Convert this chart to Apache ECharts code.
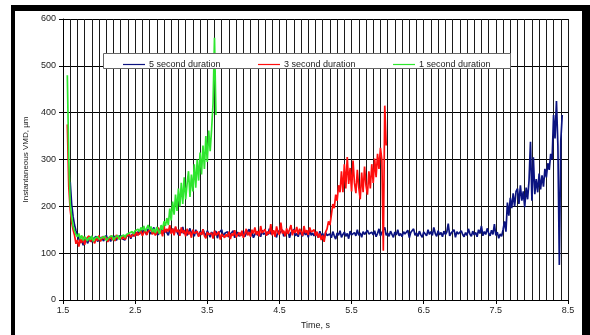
<!DOCTYPE html>
<html>
<head>
<meta charset="utf-8">
<script src="https://cdn.jsdelivr.net/npm/echarts@6/dist/echarts.min.js"></script>
<style>
  html, body { margin: 0; padding: 0; background: #fff; }
  #chart { width: 590px; height: 335px; }
</style>
</head>
<body>
<div id="chart"></div>
<script>
// sampling of the recorded traces (seconds)
const step = 0.02
const blueStart = 1.60
const redStart = 1.56
const greenStart = 1.56

const seriesNames = ["5 second duration", "3 second duration", "1 second duration"]

// 5 second duration, 1.60 .. 8.42 s
const blueVmd = [
  252, 205, 178, 160, 148, 138, 131, 122, 128, 117,
  126, 132, 121, 129, 135, 124, 131, 127, 136, 125,
  130, 127, 134, 126, 131, 138, 128, 133, 125, 132,
  129, 136, 127, 134, 130, 138, 131, 135, 128, 137,
  133, 139, 131, 141, 136, 144, 138, 146, 140, 149,
  143, 150, 145, 139, 152, 146, 141, 149, 155, 144,
  148, 139, 152, 145, 157, 142, 150, 146, 138, 151,
  144, 152, 140, 155, 146, 139, 150, 143, 156, 141,
  148, 138, 145, 153, 140, 147, 136, 150, 142, 137,
  146, 139, 151, 143, 136, 148, 141, 134, 145, 140,
  137, 147, 132, 143, 139, 150, 135, 142, 138, 146,
  134, 141, 137, 148, 133, 140, 145, 136, 143, 138,
  147, 135, 142, 139, 151, 137, 144, 133, 140, 146,
  138, 143, 135, 149, 140, 136, 145, 139, 152, 141,
  137, 146, 140, 134, 148, 142, 138, 150, 136, 143,
  139, 147, 133, 144, 140, 151, 137, 142, 135, 146,
  141, 136, 148, 139, 144, 134, 150, 138, 143, 137,
  145, 139, 133, 147, 136, 142, 131, 144, 138, 135,
  141, 133, 146, 137, 130, 143, 138, 148, 134, 140,
  145, 136, 142, 131, 147, 139, 135, 144, 137, 150,
  138, 143, 134, 146, 140, 136, 149, 141, 137, 145,
  139, 148, 135, 142, 152, 137, 144, 140, 155, 138,
  143, 136, 147, 140, 134, 145, 139, 150, 137, 142,
  135, 146, 141, 137, 149, 133, 144, 140, 152, 138,
  143, 136, 147, 139, 134, 145, 141, 137, 150, 140,
  146, 138, 155, 142, 136, 148, 139, 144, 135, 147,
  140, 145, 163, 137, 143, 139, 150, 134, 146, 141,
  137, 148, 140, 135, 144, 138, 152, 141, 136, 147,
  139, 144, 135, 150, 142, 158, 137, 146, 140, 153,
  143, 137, 149, 140, 162, 138, 145, 132, 141, 136,
  150, 168, 146, 208, 180, 218, 196, 228, 200, 232,
  238, 205, 245, 212, 232, 198, 240, 215, 255, 338,
  212, 305, 226, 258, 230, 270, 236, 266, 242, 280,
  262, 292, 278, 312, 300, 395, 345, 425, 330, 75,
  340, 395
]

// 3 second duration, 1.56 .. 5.98 s
const redVmd = [
  375, 242, 192, 166, 150, 138, 120, 128, 114, 131,
  122, 135, 118, 130, 126, 137, 124, 132, 128, 121,
  133, 127, 138, 125, 131, 136, 129, 134, 124, 130,
  137, 128, 133, 126, 139, 131, 127, 135, 130, 138,
  129, 136, 132, 140, 134, 131, 142, 136, 145, 138,
  141, 148, 137, 144, 150, 139, 146, 142, 152, 140,
  147, 138, 143, 155, 141, 149, 136, 158, 144, 152,
  146, 160, 141, 153, 138, 157, 145, 150, 137, 155,
  143, 149, 136, 152, 140, 146, 133, 150, 142, 138,
  147, 135, 144, 139, 151, 137, 132, 145, 140, 136,
  143, 131, 148, 138, 134, 146, 129, 141, 137, 133,
  140, 135, 146, 130, 142, 137, 149, 134, 139, 144,
  136, 148, 133, 141, 152, 138, 145, 135, 150, 142,
  155, 139, 147, 136, 158, 143, 140, 151, 137, 146,
  141, 162, 138, 149, 135, 157, 144, 139, 165, 142,
  148, 136, 153, 141, 145, 160, 138, 150, 143, 156,
  140, 152, 146, 137, 158, 143, 149, 139, 155, 145,
  141, 150, 137, 146, 133, 142, 128, 138, 124, 145,
  152, 168, 160, 182, 205, 196, 225, 212, 245, 230,
  275, 230, 290, 238, 305, 248, 282, 232, 298, 250,
  228, 278, 240, 215, 272, 230, 285, 244, 225, 275,
  238, 290, 250, 302, 262, 312, 280, 325, 300, 105,
  415, 330
]

// 1 second duration, 1.56 .. 3.62 s
const greenVmd = [
  480, 300, 205, 178, 158, 148, 140, 135, 142, 130,
  138, 127, 135, 131, 126, 134, 129, 137, 125, 132,
  128, 135, 130, 126, 133, 129, 136, 127, 131, 134,
  130, 137, 128, 133, 131, 138, 129, 135, 132, 139,
  134, 140, 137, 143, 139, 146, 141, 148, 144, 151,
  146, 155, 149, 158, 147, 153, 160, 150, 157, 145,
  152, 143, 156, 148, 141, 160, 150, 168, 158, 175,
  160, 195, 170, 210, 182, 225, 190, 238, 200, 250,
  205, 262, 215, 248, 275, 220, 268, 232, 290, 240,
  300, 255, 315, 268, 330, 280, 350, 295, 362, 318,
  365, 420, 560, 395
]

const xMin = 1.5
const xMax = 8.5
const yTicks = [0, 100, 200, 300, 400, 500, 600]

const toPoints = (start, vals) => vals.map((v, i) => [+(start + i * step).toFixed(2), v])

const font = "Liberation Sans, Arial, sans-serif"
const textCol = "#222"

const chart = echarts.init(document.getElementById("chart"), null, { renderer: "canvas" })

const lineSeries = (name, color, start, vals) => ({
  name: name,
  type: "line",
  xAxisIndex: 0,
  data: toPoints(start, vals),
  showSymbol: false,
  symbol: "none",
  lineStyle: { color: color, width: 1.7 },
  itemStyle: { color: color },
  animation: false,
})

const legendAt = (name, left) => ({
  data: [name],
  left: left,
  top: 55,
  z: 12,
  icon: "rect",
  itemWidth: 22,
  itemHeight: 1.2,
  itemGap: 0,
  textStyle: { fontFamily: font, fontSize: 9, color: textCol, padding: [0, 0, 0, -1] },
  selectedMode: false,
})

chart.setOption({
  backgroundColor: "#fff",
  animation: false,
  grid: { left: 63, right: 22, top: 19, bottom: 31 },
  legend: [
    legendAt(seriesNames[0], 118),
    legendAt(seriesNames[1], 253),
    legendAt(seriesNames[2], 388),
  ],
  xAxis: [
    {
      // data axis with the 0.1 s grid
      type: "value",
      min: xMin,
      max: xMax,
      interval: 0.1,
      axisLine: { show: true, lineStyle: { color: "#000", width: 1 } },
      axisTick: { show: false },
      axisLabel: { show: false },
      splitLine: { show: true, lineStyle: { color: "#1a1a1a", width: 1 } },
    },
    {
      // label axis: 1.5, 2.5, ... 8.5
      type: "value",
      position: "bottom",
      min: 0,
      max: xMax - xMin,
      interval: 1,
      axisLine: { show: false },
      axisTick: { show: true, length: 4, lineStyle: { color: "#000" } },
      axisLabel: {
        margin: 6,
        fontFamily: font,
        fontSize: 9,
        color: textCol,
        formatter: (v) => (v + xMin).toFixed(1),
      },
      splitLine: { show: false },
      name: "Time, s",
      nameLocation: "middle",
      nameGap: 21,
      nameTextStyle: { fontFamily: font, fontSize: 9, color: textCol },
    },
  ],
  yAxis: {
    type: "value",
    min: yTicks[0],
    max: yTicks[yTicks.length - 1],
    interval: 100,
    axisLine: { show: true, lineStyle: { color: "#000", width: 1 } },
    axisTick: { show: true, length: 4, lineStyle: { color: "#000" } },
    axisLabel: { margin: 7, fontFamily: font, fontSize: 9, color: textCol },
    splitLine: { show: true, lineStyle: { color: "#000", width: 1 } },
    name: "Instantaneous VMD, µm",
    nameLocation: "middle",
    nameGap: 33,
    nameTextStyle: { fontFamily: font, fontSize: 8, color: textCol },
  },
  series: [
    lineSeries(seriesNames[0], "#0b1380", blueStart, blueVmd),
    lineSeries(seriesNames[1], "#ff0d0d", redStart, redVmd),
    lineSeries(seriesNames[2], "#2ee62e", greenStart, greenVmd),
  ],
  graphic: [
    // legend box
    {
      type: "rect",
      z: 10,
      shape: { x: 103.5, y: 53.5, width: 407, height: 15 },
      style: { fill: "#fff", stroke: "#666", lineWidth: 1 },
    },
    // black frame around the picture
    { type: "rect", z: 20, shape: { x: 11, y: 5, width: 579, height: 6 }, style: { fill: "#000" } },
    { type: "rect", z: 20, shape: { x: 11, y: 5, width: 4, height: 330 }, style: { fill: "#000" } },
    { type: "rect", z: 20, shape: { x: 582, y: 5, width: 8, height: 330 }, style: { fill: "#000" } },
  ],
})
</script>
</body>
</html>
